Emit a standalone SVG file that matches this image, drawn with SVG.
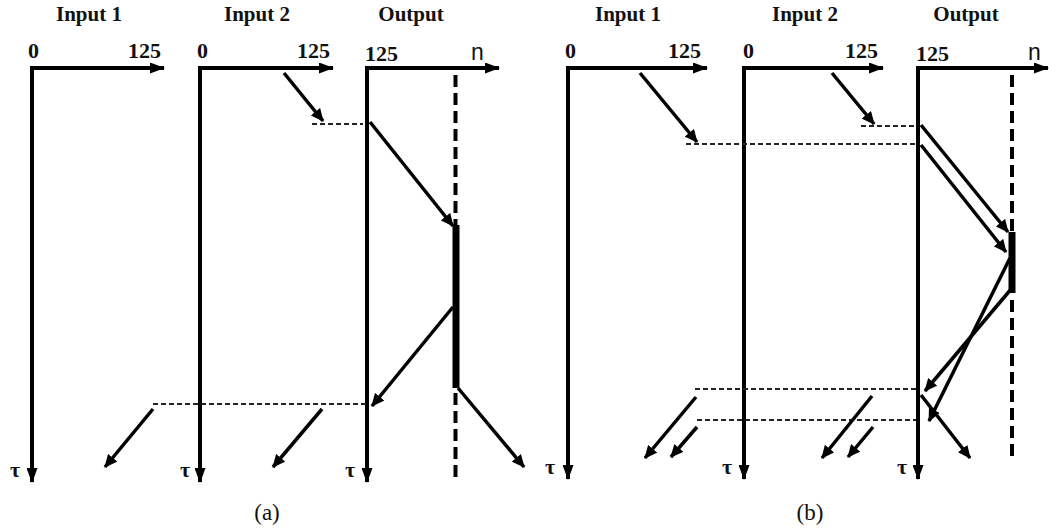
<svg xmlns="http://www.w3.org/2000/svg" width="1049" height="531" viewBox="0 0 1049 531">
<style>
.t{font-family:"Liberation Serif",serif;font-weight:bold;font-size:21px;fill:#111;text-anchor:middle}
.num{font-family:"Liberation Serif",serif;font-weight:bold;font-size:22px;fill:#111}
.n{font-family:"Liberation Sans",sans-serif;font-size:23px;fill:#111}
.tau{font-family:"Liberation Serif",serif;font-weight:bold;font-size:22px;fill:#111}
.cap{font-family:"Liberation Serif",serif;font-size:23px;fill:#111;text-anchor:middle}
.axh{stroke:#000;stroke-width:4;fill:none;marker-end:url(#axhead)}
.ar{stroke:#000;stroke-width:3.5;fill:none;marker-end:url(#ahead)}
.dh{stroke:#222;stroke-width:2;stroke-dasharray:5 3;fill:none}
.dv{stroke:#000;stroke-width:4;stroke-dasharray:12 6;fill:none}
.bar{stroke:#000;stroke-width:7;fill:none}
</style>
<defs>
<marker id="axhead" markerUnits="userSpaceOnUse" viewBox="0 0 15 11" markerWidth="15" markerHeight="11" refX="14" refY="5.5" orient="auto"><path d="M0,0 L15,5.5 L0,11 z" fill="#000"/></marker>
<marker id="ahead" markerUnits="userSpaceOnUse" viewBox="0 0 13 12" markerWidth="13" markerHeight="12" refX="12" refY="6" orient="auto"><path d="M0,0 L13,6 L0,12 z" fill="#000"/></marker>
</defs>
<rect width="1049" height="531" fill="#fff"/>

<!-- Panel (a) -->
<g id="a-input1">
<text class="t" x="89" y="21">Input 1</text>
<text class="num" x="28" y="58">0</text>
<text class="num" x="128" y="58">125</text>
<text class="tau" x="10" y="477">τ</text>
<line class="axh" x1="30" y1="68" x2="164" y2="68"/>
<line class="axh" x1="32" y1="66" x2="32" y2="482"/>
</g>
<g id="a-input2">
<text class="t" x="257" y="21">Input 2</text>
<text class="num" x="197" y="58">0</text>
<text class="num" x="297" y="58">125</text>
<text class="tau" x="180" y="477">τ</text>
<line class="axh" x1="198" y1="68" x2="333" y2="68"/>
<line class="axh" x1="200" y1="66" x2="200" y2="482"/>
</g>
<g id="a-output">
<text class="t" x="411" y="21">Output</text>
<text class="num" x="365" y="61">125</text>
<text class="n" x="471" y="60">n</text>
<text class="tau" x="345" y="477">τ</text>
<line class="axh" x1="365" y1="68" x2="499" y2="68"/>
<line class="axh" x1="367" y1="66" x2="367" y2="482"/>
<line class="dv" x1="455.5" y1="75" x2="455.5" y2="225"/>
<line class="bar" x1="456" y1="225" x2="456" y2="388"/>
<line class="dv" x1="455.5" y1="393" x2="455.5" y2="480"/>
</g>
<text class="cap" x="267" y="520">(a)</text>

<!-- Panel (b) -->
<g id="b-input1">
<text class="t" x="628" y="21">Input 1</text>
<text class="num" x="565" y="58">0</text>
<text class="num" x="668" y="58">125</text>
<text class="tau" x="545" y="474">τ</text>
<line class="axh" x1="566" y1="68" x2="707" y2="68"/>
<line class="axh" x1="568" y1="66" x2="568" y2="479"/>
</g>
<g id="b-input2">
<text class="t" x="805" y="21">Input 2</text>
<text class="num" x="743" y="58">0</text>
<text class="num" x="845" y="58">125</text>
<text class="tau" x="722" y="474">τ</text>
<line class="axh" x1="742" y1="68" x2="883" y2="68"/>
<line class="axh" x1="744" y1="66" x2="744" y2="479"/>
</g>
<g id="b-output">
<text class="t" x="966" y="21">Output</text>
<text class="num" x="916" y="61">125</text>
<text class="n" x="1028" y="60">n</text>
<text class="tau" x="897" y="474">τ</text>
<line class="axh" x1="916" y1="68" x2="1048" y2="68"/>
<line class="axh" x1="918" y1="66" x2="918" y2="479"/>
<line class="dv" x1="1012" y1="75" x2="1012" y2="232"/>
<line class="bar" x1="1012" y1="232" x2="1012" y2="293"/>
<line class="dv" x1="1012" y1="300" x2="1012" y2="456"/>
</g>
<text class="cap" x="810" y="520">(b)</text>

<g id="connectors">
<!-- (a) -->
<line class="dh" x1="312" y1="124" x2="363" y2="124"/>
<line class="dh" x1="153" y1="404" x2="366" y2="404"/>
<line class="ar" x1="284" y1="73" x2="323" y2="121"/>
<line class="ar" x1="370" y1="122" x2="453" y2="226"/>
<line class="ar" x1="453" y1="307" x2="372" y2="406"/>
<line class="ar" x1="458" y1="388" x2="524" y2="467"/>
<line class="ar" x1="153" y1="409" x2="105" y2="467"/>
<line class="ar" x1="322" y1="409" x2="273" y2="467"/>
<!-- (b) -->
<line class="dh" x1="861" y1="126" x2="916" y2="126"/>
<line class="dh" x1="686" y1="144" x2="916" y2="144"/>
<line class="dh" x1="695" y1="389" x2="916" y2="389"/>
<line class="dh" x1="697" y1="420" x2="916" y2="420"/>
<line class="ar" x1="640" y1="73" x2="697" y2="142"/>
<line class="ar" x1="832" y1="73" x2="874" y2="124"/>
<line class="ar" x1="921" y1="125" x2="1008" y2="232"/>
<line class="ar" x1="921" y1="145" x2="1006" y2="252"/>
<line class="ar" x1="1010" y1="258" x2="929" y2="421"/>
<line class="ar" x1="1012" y1="288" x2="925" y2="391"/>
<line class="ar" x1="921" y1="395" x2="970" y2="458"/>
<line class="ar" x1="696" y1="397" x2="645" y2="458"/>
<line class="ar" x1="697" y1="427" x2="671" y2="457"/>
<line class="ar" x1="872" y1="396" x2="822" y2="458"/>
<line class="ar" x1="873" y1="427" x2="848" y2="457"/>
</g>
</svg>
